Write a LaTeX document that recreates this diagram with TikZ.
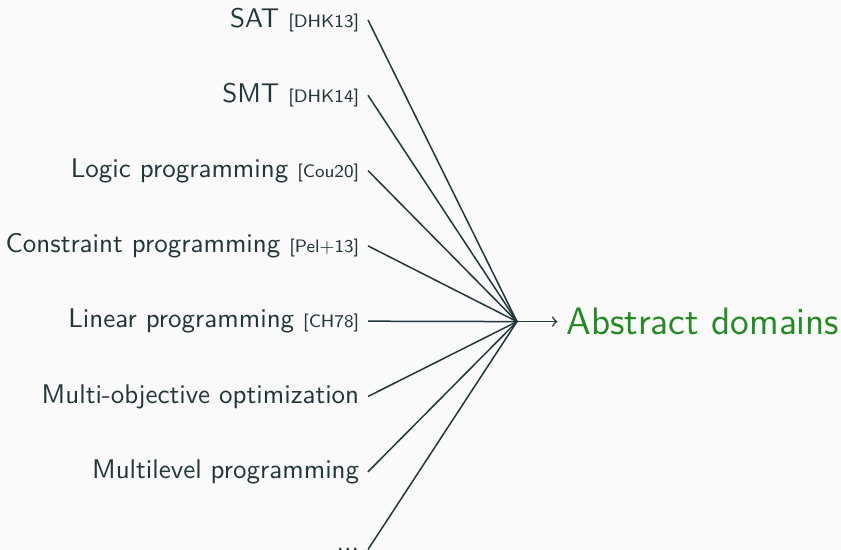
\documentclass[tikz,border=0pt]{standalone}
\usepackage{amsmath,amssymb}
\definecolor{darkteal}{HTML}{23373B}
\definecolor{absgreen}{HTML}{228B22}
\definecolor{pagebg}{HTML}{FAFAFA}
\newcommand{\refcite}[1]{{\fontsize{7.2}{8.5}\selectfont[#1]}}

\begin{document}
\begin{tikzpicture}[x=0.4pt, y=-0.4pt, every node/.style={font=\sffamily\fontsize{10.8}{13}\selectfont, text=darkteal, anchor=east}]
  \fill[pagebg] (0,0) rectangle (841,550);
  \useasboundingbox (0,0) rectangle (841,550);
  \node (sat) at (368, 20.0) {SAT \refcite{DHK13}};
  \node (smt) at (368, 95.3) {SMT \refcite{DHK14}};
  \node (logic) at (368, 170.6) {Logic programming \refcite{Cou20}};
  \node (cp) at (368, 245.9) {Constraint programming \refcite{Pel+13}};
  \node (lp) at (368, 321.2) {Linear programming \refcite{CH78}};
  \node (moo) at (368, 396.5) {Multi-objective optimization};
  \node (mlp) at (368, 471.8) {Multilevel programming};
  \node (etc) at (368, 549.5) {...};
  \coordinate (hub) at (517, 321.6);
  \node[anchor=west, text=absgreen, font=\sffamily\fontsize{15.3}{18}\selectfont] (abs) at (557.5, 321.6) {Abstract domains};
  \draw[semithick, darkteal] (sat.east) -- (hub);
  \draw[semithick, darkteal] (smt.east) -- (hub);
  \draw[semithick, darkteal] (logic.east) -- (hub);
  \draw[semithick, darkteal] (cp.east) -- (hub);
  \draw[semithick, darkteal] (lp.east) -- (hub);
  \draw[semithick, darkteal] (moo.east) -- (hub);
  \draw[semithick, darkteal] (mlp.east) -- (hub);
  \draw[semithick, darkteal] (etc.east) -- (hub);
  \draw[semithick, darkteal, ->] (hub) -- (abs.west);
\end{tikzpicture}
\end{document}
